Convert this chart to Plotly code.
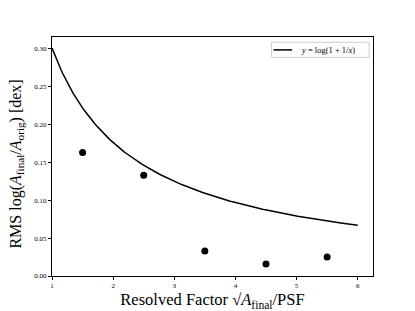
import numpy as np
import plotly.graph_objects as go

# Data
resolved_factor = [1.5, 2.5, 3.5, 4.5, 5.5]
rms_dex = [0.163, 0.133, 0.033, 0.016, 0.025]
curve_x = np.linspace(1, 6, 200)
curve_y = np.log10(1 + 1 / curve_x)
curve_label = "<i>y</i> = log(1 + 1/<i>x</i>)"
x_ticks = [1, 2, 3, 4, 5, 6]
y_ticks = [0.00, 0.05, 0.10, 0.15, 0.20, 0.25, 0.30]
x_title = "Resolved Factor √<i>A</i><sub>final</sub>/PSF"
y_title = "RMS log(<i>A</i><sub>final</sub>/<i>A</i><sub>orig</sub>) [dex]"

FONT = "Liberation Serif"

fig = go.Figure()
fig.add_trace(go.Scatter(
    x=curve_x, y=curve_y, mode="lines",
    line=dict(color="black", width=1.5),
    name=curve_label, showlegend=False,
))
fig.add_trace(go.Scatter(
    x=resolved_factor, y=rms_dex, mode="markers",
    marker=dict(color="black", size=7),
    showlegend=False,
))

# manual legend (matplotlib-style box)
fig.add_shape(type="rect", xref="paper", yref="paper",
              x0=0.684, x1=0.988, y0=0.915, y1=0.978,
              line=dict(color="#cccccc", width=1), fillcolor="white")
fig.add_shape(type="line", xref="paper", yref="paper",
              x0=0.690, x1=0.748, y0=0.946, y1=0.946,
              line=dict(color="black", width=1.5))
fig.add_annotation(xref="paper", yref="paper", x=0.770, y=0.946,
                   xanchor="left", yanchor="middle", showarrow=False,
                   text=curve_label, font=dict(size=8.5, family=FONT, color="black"))

# y-axis title as rotated annotation
fig.add_annotation(xref="paper", yref="paper", x=-0.112, y=0.5, yshift=-8,
                   xanchor="center", yanchor="middle", showarrow=False,
                   textangle=-90, text=y_title,
                   font=dict(size=16, family=FONT, color="black"))

fig.update_layout(
    width=415, height=311,
    margin=dict(l=52, r=42, t=37, b=35),
    paper_bgcolor="white", plot_bgcolor="white",
    font=dict(family=FONT, color="black"),
    showlegend=False,
)
fig.update_xaxes(
    range=[1, 6.25], tickvals=x_ticks, ticktext=[str(v) for v in x_ticks],
    showgrid=False, zeroline=False, automargin=False,
    showline=True, linecolor="black", linewidth=1, mirror=True,
    ticks="outside", ticklen=3, tickcolor="black",
    tickfont=dict(size=7, family=FONT, color="black"),
    title=dict(text=x_title, font=dict(size=16.5, family=FONT, color="black"), standoff=1),
)
fig.update_yaxes(
    range=[0, 0.3155], tickvals=y_ticks, ticktext=[f"{v:.2f}" for v in y_ticks],
    showgrid=False, zeroline=False, automargin=False,
    showline=True, linecolor="black", linewidth=1, mirror=True,
    ticks="outside", ticklen=3, tickcolor="black",
    tickfont=dict(size=7, family=FONT, color="black"),
)

fig.write_html("out.html", config={"displayModeBar": False},
               post_script="document.body.style.margin='0';document.body.style.overflow='hidden';")
